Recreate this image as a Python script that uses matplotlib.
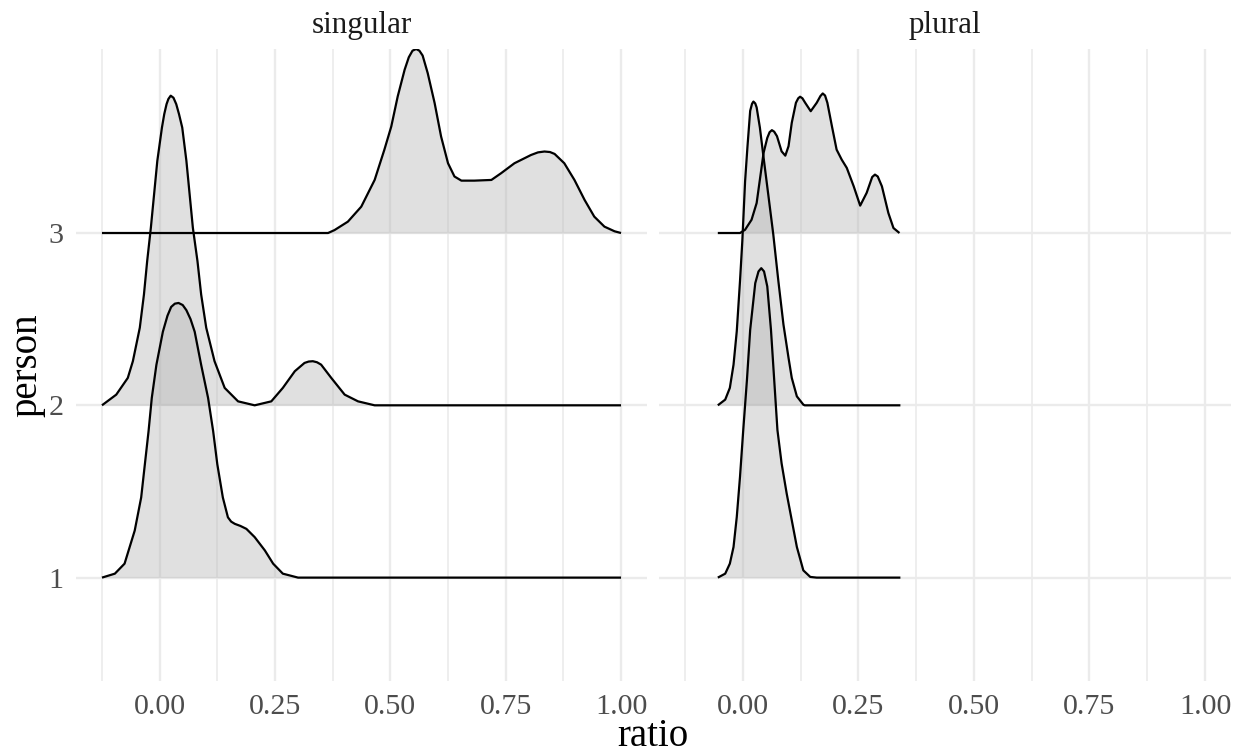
import numpy as np
import matplotlib.pyplot as plt

plt.rcParams['font.family'] = ['Liberation Serif', 'DejaVu Serif']

# Facetas y niveles
panels = ["singular", "plural"]
persons = [1, 2, 3]
x_ticks = [0.00, 0.25, 0.50, 0.75, 1.00]
x_tick_labels = ["0.00", "0.25", "0.50", "0.75", "1.00"]

# Curvas de densidad (x = ratio, h = altura sobre la línea base)
sing1_x = [-0.125, -0.097, -0.076, -0.054, -0.040, -0.032, -0.024, -0.017, -0.007, 0.007,
           0.017, 0.025, 0.033, 0.041, 0.050, 0.058, 0.067, 0.076, 0.090, 0.105,
           0.116, 0.125, 0.137, 0.148, 0.155, 0.163, 0.175, 0.188, 0.206, 0.228,
           0.246, 0.267, 0.300, 0.350, 1.000]
sing1_h = [0.0, 0.023, 0.081, 0.273, 0.465, 0.658, 0.850, 1.043, 1.235, 1.427,
           1.520, 1.571, 1.590, 1.594, 1.582, 1.552, 1.500, 1.427, 1.235, 1.043,
           0.850, 0.658, 0.465, 0.350, 0.325, 0.312, 0.300, 0.283, 0.235, 0.158,
           0.081, 0.023, 0.0, 0.0, 0.0]

sing2_x = [-0.125, -0.094, -0.069, -0.058, -0.043, -0.034, -0.027, -0.019, -0.012, -0.005,
           0.005, 0.010, 0.015, 0.019, 0.024, 0.030, 0.036, 0.042, 0.049, 0.058,
           0.065, 0.072, 0.082, 0.090, 0.101, 0.119, 0.141, 0.170, 0.206, 0.242,
           0.267, 0.293, 0.314, 0.323, 0.332, 0.341, 0.350, 0.372, 0.401, 0.430,
           0.466, 1.000]
sing2_h = [0.0, 0.062, 0.159, 0.256, 0.450, 0.643, 0.837, 1.031, 1.225, 1.419,
           1.612, 1.690, 1.748, 1.778, 1.797, 1.785, 1.748, 1.690, 1.612, 1.419,
           1.225, 1.031, 0.837, 0.643, 0.450, 0.256, 0.101, 0.023, 0.0, 0.023,
           0.101, 0.198, 0.246, 0.254, 0.256, 0.250, 0.236, 0.159, 0.062, 0.023,
           0.0, 0.0]

sing3_x = [-0.125, 0.365, 0.379, 0.408, 0.437, 0.466, 0.487, 0.502, 0.516, 0.531,
           0.540, 0.548, 0.556, 0.563, 0.570, 0.581, 0.596, 0.610, 0.625, 0.639,
           0.654, 0.682, 0.719, 0.740, 0.769, 0.805, 0.820, 0.834, 0.846, 0.856,
           0.877, 0.899, 0.921, 0.942, 0.964, 0.986, 1.000]
sing3_h = [0.0, 0.0, 0.017, 0.066, 0.153, 0.308, 0.483, 0.618, 0.793, 0.948,
           1.020, 1.058, 1.068, 1.058, 1.030, 0.928, 0.754, 0.560, 0.405, 0.328,
           0.304, 0.304, 0.308, 0.347, 0.405, 0.453, 0.468, 0.473, 0.470, 0.459,
           0.405, 0.308, 0.192, 0.095, 0.037, 0.010, 0.0]

plur1_x = [-0.054, -0.038, -0.028, -0.020, -0.013, -0.006, 0.001, 0.009, 0.016, 0.027,
           0.034, 0.040, 0.046, 0.053, 0.061, 0.068, 0.075, 0.084, 0.095, 0.106,
           0.117, 0.131, 0.146, 0.160, 0.341]
plur1_h = [0.0, 0.023, 0.081, 0.178, 0.352, 0.585, 0.856, 1.147, 1.438, 1.709,
           1.777, 1.796, 1.777, 1.690, 1.438, 1.147, 0.856, 0.663, 0.488, 0.333,
           0.178, 0.042, 0.004, 0.0, 0.0]

plur2_x = [-0.054, -0.038, -0.028, -0.020, -0.013, -0.006, -0.001, 0.005, 0.010, 0.016,
           0.020, 0.023, 0.027, 0.030, 0.037, 0.045, 0.056, 0.066, 0.077, 0.088,
           0.099, 0.106, 0.117, 0.131, 0.134, 0.341]
plur2_h = [0.0, 0.033, 0.101, 0.236, 0.430, 0.721, 0.953, 1.300, 1.496, 1.709,
           1.750, 1.763, 1.752, 1.729, 1.612, 1.438, 1.205, 0.992, 0.721, 0.469,
           0.275, 0.159, 0.052, 0.004, 0.0, 0.0]

plur3_x = [-0.054, -0.006, 0.005, 0.019, 0.030, 0.037, 0.045, 0.053, 0.058, 0.063,
           0.068, 0.074, 0.084, 0.092, 0.099, 0.106, 0.115, 0.120, 0.124, 0.129,
           0.135, 0.147, 0.160, 0.168, 0.173, 0.178, 0.183, 0.193, 0.203, 0.214,
           0.225, 0.240, 0.254, 0.268, 0.280, 0.286, 0.292, 0.301, 0.315, 0.326,
           0.339]
plur3_h = [0.0, 0.0, 0.019, 0.077, 0.174, 0.310, 0.465, 0.552, 0.585, 0.597,
           0.588, 0.562, 0.474, 0.449, 0.504, 0.640, 0.756, 0.782, 0.791, 0.782,
           0.756, 0.707, 0.756, 0.795, 0.810, 0.798, 0.756, 0.618, 0.484, 0.426,
           0.378, 0.271, 0.159, 0.233, 0.325, 0.339, 0.328, 0.271, 0.116, 0.029,
           0.0]

curves = {
    "singular": [(sing1_x, sing1_h), (sing2_x, sing2_h), (sing3_x, sing3_h)],
    "plural": [(plur1_x, plur1_h), (plur2_x, plur2_h), (plur3_x, plur3_h)],
}

W, H = 1236, 755
fig = plt.figure(figsize=(W / 100, H / 100), dpi=100)

# Posición de los paneles en píxeles: izquierda, derecha, arriba, abajo
panel_px = [(76, 647, 49, 681), (659, 1231, 49, 681)]

for i, name in enumerate(panels):
    l, r, t, b = panel_px[i]
    ax = fig.add_axes([l / W, (H - b) / H, (r - l) / W, (b - t) / H])

    # rejilla tipo theme_minimal
    for xv in np.arange(-0.125, 1.01, 0.125):
        major = abs((xv / 0.25) - round(xv / 0.25)) < 1e-6
        ax.axvline(xv, color="#EBEBEB", lw=1.7 if major else 1.2, zorder=0)
    for p in persons:
        ax.axhline(p, color="#EBEBEB", lw=1.7, zorder=0)

    # de arriba hacia abajo, como ggridges
    for p in reversed(persons):
        xs, hs = curves[name][p - 1]
        xs = np.array(xs)
        top = p + np.array(hs)
        ax.fill_between(xs, p, top, color="#B3B3B3", alpha=0.4, lw=0, zorder=2)
        ax.plot(xs, top, color="black", lw=1.6, zorder=3,
                solid_capstyle="butt", solid_joinstyle="round")

    ax.set_xlim(-0.18125, 1.05625)
    ax.set_ylim(0.4, 4.068)
    ax.set_xticks(x_ticks)
    ax.set_xticklabels(x_tick_labels)
    ax.set_yticks(persons)
    if i == 0:
        ax.set_yticklabels([str(p) for p in persons])
    else:
        ax.set_yticklabels([])
    ax.tick_params(length=0, labelsize=21.6, labelcolor="#4D4D4D", pad=9)
    for s in ax.spines.values():
        s.set_visible(False)

    fig.text((l + r) / 2 / W, (H - 25) / H, name, ha="center", va="center",
             fontsize=22.4, color="#1A1A1A")

fig.text(653 / W, (H - 737) / H, "ratio", ha="center", va="center", fontsize=28)
fig.text(27 / W, (H - 365) / H, "person", ha="center", va="center", rotation=90, fontsize=28)

plt.savefig("out.png", dpi=100)
